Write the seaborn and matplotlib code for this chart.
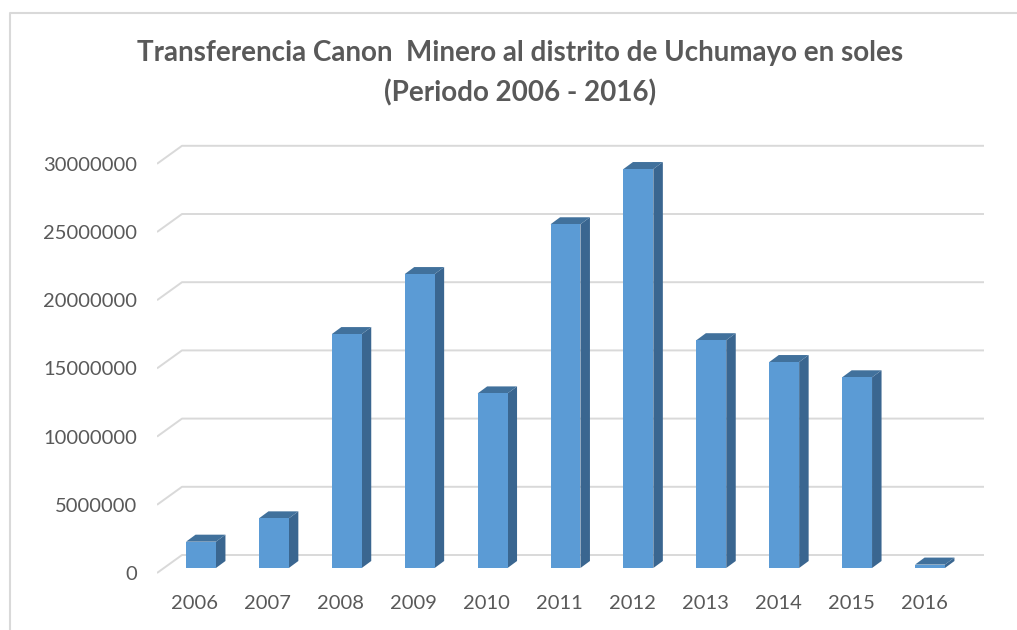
import matplotlib.pyplot as plt
import matplotlib.transforms as mtransforms
from matplotlib.lines import Line2D
from matplotlib.patches import Polygon
import seaborn as sns

years = ["2006", "2007", "2008", "2009", "2010", "2011", "2012", "2013", "2014", "2015", "2016"]
soles = [1930000, 3640000, 17150000, 21550000, 12800000, 25200000,
         29250000, 16700000, 15100000, 13980000, 250000]
y_ticks = [0, 5000000, 10000000, 15000000, 20000000, 25000000, 30000000]

W, H, DPI = 1017, 630, 100
FRONT = "#5B9BD5"
TOP = "#41719C"
SIDE = "#3A6690"
GRID = "#D9D9D9"
TEXT = "#595959"

sns.set_theme(style="white")
plt.rcParams["font.family"] = ["Lato", "DejaVu Sans"]

fig = plt.figure(figsize=(W / DPI, H / DPI), dpi=DPI)

# plot area in pixels
left, right, top, bottom = 157, 984, 140, 582
ax = fig.add_axes([left / W, 1 - bottom / H, (right - left) / W, (bottom - top) / H])

sns.barplot(x=years, y=soles, color=FRONT, saturation=1, width=0.41,
            linewidth=0, ax=ax, zorder=3)

# pixel scales used for the fake 3d look
px_x = 72.9             # px per category
px_y = 68.2 / 5000000   # px per sol
first_px = 201
base_px = 568
ax.set_xlim((left - first_px) / px_x, (right - first_px) / px_x)
ax.set_ylim((base_px - bottom) / px_y, (base_px - top) / px_y)

depth_x = 9.5 / px_x
depth_y = 7 / px_y
back_off = 13 / px_y
front_off = -5 / px_y
wall_dx = 25 / px_x
x_lo, x_hi = ax.get_xlim()

# grid: floor diagonal + back wall line
for v in y_ticks:
    ax.plot([x_lo, x_lo + wall_dx, x_hi], [v + front_off, v + back_off, v + back_off],
            color=GRID, lw=1.4, zorder=1, solid_capstyle="butt")

# side and top faces of each bar
for p in ax.patches[:len(years)]:
    x0 = p.get_x()
    x1 = x0 + p.get_width()
    h = p.get_height()
    side = Polygon([(x1, 0), (x1 + depth_x, depth_y), (x1 + depth_x, h + depth_y), (x1, h)],
                   closed=True, facecolor=SIDE, edgecolor="none", zorder=2)
    cap = Polygon([(x0, h), (x1, h), (x1 + depth_x, h + depth_y), (x0 + depth_x, h + depth_y)],
                  closed=True, facecolor=TOP, edgecolor="none", zorder=2)
    ax.add_patch(side)
    ax.add_patch(cap)

ax.set_yticks([v + front_off for v in y_ticks])
ax.set_yticklabels([str(v) for v in y_ticks])
ax.set_xticks(range(len(years)))
ax.set_xticklabels(years)
ax.tick_params(axis="y", length=0, pad=14.4, labelsize=14.5, labelcolor=TEXT)
ax.tick_params(axis="x", length=0, pad=9.5, labelsize=14.5, labelcolor=TEXT)
shift = mtransforms.ScaledTranslation(-6 / DPI, 0, fig.dpi_scale_trans)
for lab in ax.get_xticklabels():
    lab.set_transform(lab.get_transform() + shift)
for s in ax.spines.values():
    s.set_visible(False)
ax.set_xlabel("")
ax.set_ylabel("")

fig.text(520 / W, 1 - 53 / H, "Transferencia Canon  Minero al distrito de Uchumayo en soles",
         ha="center", va="center", fontsize=20, fontweight="bold", color=TEXT)
fig.text(520 / W, 1 - 93 / H, "(Periodo 2006 - 2016)",
         ha="center", va="center", fontsize=20, fontweight="bold", color=TEXT)

# chart frame (cut at right and bottom)
fig.add_artist(Line2D([10 / W, 10 / W, 1], [0, 1 - 13 / H, 1 - 13 / H],
                      transform=fig.transFigure, color=GRID, lw=1.5))

fig.savefig("out.png", dpi=DPI)
